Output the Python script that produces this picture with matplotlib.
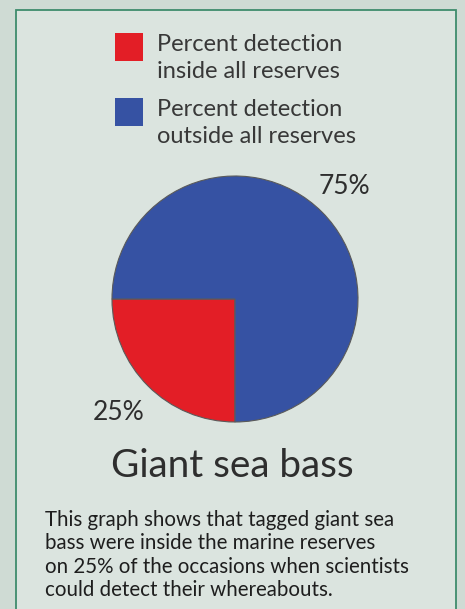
import matplotlib.pyplot as plt
from matplotlib.patches import Rectangle

W, H = 465, 609

labels = ["Percent detection\ninside all reserves", "Percent detection\noutside all reserves"]
values = [25, 75]
colors = ["#e31e26", "#3652a3"]
title = "Giant sea bass"
caption = ("This graph shows that tagged giant sea\n"
           "bass were inside the marine reserves\n"
           "on 25% of the occasions when scientists\n"
           "could detect their whereabouts.")

plt.rcParams['font.family'] = ['Lato', 'DejaVu Sans']
txt = "#2e2e2e"

fig = plt.figure(figsize=(W / 100, H / 100), dpi=100)
fig.patch.set_facecolor("#cfdbd4")

def fx(x):
    return x / W

def fy(y):
    return 1 - y / H

# inner panel with green frame
fig.patches.append(Rectangle((fx(16), fy(H + 5)), fx(456) - fx(16), fy(10) - fy(H + 5),
                             transform=fig.transFigure, facecolor="#dbe4df",
                             edgecolor="#3e8c6c", linewidth=1.3, zorder=-2))

# legend
for i, (lab, col) in enumerate(zip(labels, colors)):
    top = 33 + i * 65
    fig.patches.append(Rectangle((fx(115), fy(top + 28)), fx(28), 28 / H,
                                 transform=fig.transFigure, facecolor=col,
                                 edgecolor="none", zorder=-1))
    fig.text(fx(157), fy(top + 25), lab, ha="left", va="center", fontsize=17,
             color="#383838", linespacing=1.3)

# pie
cx, cy, r = 235, 299, 123
ax = fig.add_axes([fx(cx - r), fy(cy + r), 2 * r / W, 2 * r / H])
ax.pie(values, colors=colors, startangle=180, counterclock=True,
       wedgeprops=dict(edgecolor="#5a5a5a", linewidth=0.8))
ax.set_xlim(-1, 1)
ax.set_ylim(-1, 1)
ax.patch.set_alpha(0)

fig.text(fx(344), fy(186), f"{values[1]}%", ha="center", va="center", fontsize=19, color=txt)
fig.text(fx(119), fy(412), f"{values[0]}%", ha="center", va="center", fontsize=19, color=txt)

fig.text(fx(232), fy(466), title, ha="center", va="center", fontsize=27.8, color=txt)
fig.text(fx(45), fy(555), caption, ha="left", va="center", fontsize=14.8, color="#1e1e1e",
         linespacing=1.2)

fig.savefig("out.png", dpi=100)
